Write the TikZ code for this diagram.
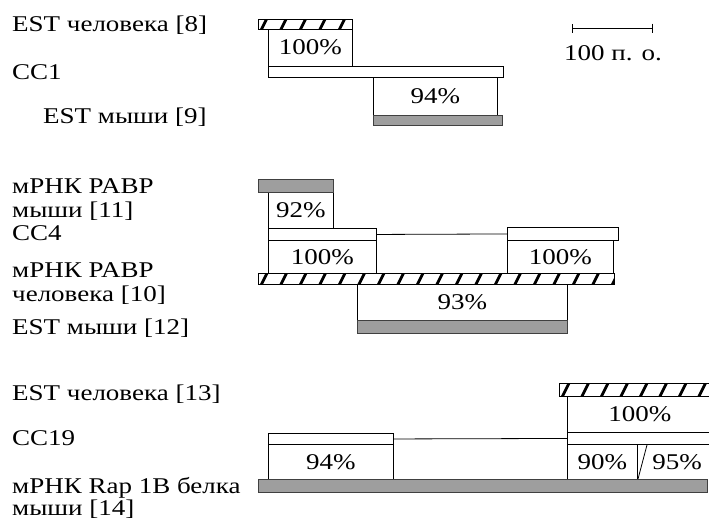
\documentclass[tikz,border=0pt]{standalone}
\usepackage{fontspec}
\setmainfont{Liberation Serif}[FakeStretch=1.2]
\usetikzlibrary{arrows.meta}
\tikzset{
  lbl/.style={anchor=base west, inner sep=0pt, font=\fontsize{22.5}{24}\selectfont},
  pct/.style={draw, line width=0.7pt, anchor=north west, inner sep=0pt,
              font=\fontsize{22.5}{24}\selectfont},
  ccbar/.style={draw, line width=0.9pt, fill=white, anchor=north west, inner sep=0pt},
  greybar/.style={draw=black!75, line width=0.7pt, fill=black!38, anchor=north west,
                  inner sep=0pt},
  hatchbar/.style={draw, line width=0.8pt, fill=white, anchor=north west, inner sep=0pt,
    path picture={
      \foreach \k in {0,...,22}
        \draw[line width=2.8pt] ([xshift=\k*19.5pt+3pt]path picture bounding box.south west) -- ++(7pt,14pt);
    }},
}

\begin{document}
\begin{tikzpicture}[x=1pt, y=-1pt]
  \clip (0,0) rectangle (709,523);
  \fill[white] (0,0) rectangle (709,523);

  % left labels
  \node[lbl] (t8) at (12,31) {EST человека [8]};
  \node[lbl] (tcc1) at (12,79) {CC1};
  \node[lbl] (t9) at (43,123) {EST мыши [9]};

  \node[lbl] (t11a) at (12,193) {мРНК PABP};
  \node[lbl] (t11b) at (12,217) {мыши [11]};
  \node[lbl] (tcc4) at (12,240) {CC4};
  \node[lbl] (t10a) at (12,277) {мРНК PABP};
  \node[lbl] (t10b) at (12,301) {человека [10]};
  \node[lbl] (t12) at (12,334) {EST мыши [12]};

  \node[lbl] (t13) at (12,400) {EST человека [13]};
  \node[lbl] (tcc19) at (12,445) {CC19};
  \node[lbl] (t14a) at (12,493) {мРНК Rap 1B белка};
  \node[lbl] (t14b) at (12,515) {мыши [14]};

  % scale
  \coordinate (sc1) at (572,28);
  \coordinate (sc2) at (653,28);
  \draw[line width=0.8pt, {Bar[width=9pt]}-{Bar[width=9pt]}] (sc1) -- (sc2);
  \node[lbl, anchor=base] (tsc) at (613,60) {100 п. о.};

  % CC1
  \node[pct, minimum width=84pt, minimum height=38pt] (p8) at (268,28) {100\%};
  \node[pct, minimum width=124pt, minimum height=38pt] (p9) at (373,77) {94\%};
  \node[hatchbar, minimum width=94pt, minimum height=10pt] (h8) at (258,19) {};
  \node[ccbar, minimum width=235pt, minimum height=11pt] (cc1) at (268,66) {};
  \node[greybar, minimum width=129pt, minimum height=10pt] (m9) at (373,115) {};

  % CC4
  \node[pct, minimum width=65pt, minimum height=36pt] (p11) at (268,192) {92\%};
  \node[pct, minimum width=108pt, minimum height=33pt] (p10a) at (268,240) {100\%};
  \node[pct, minimum width=106pt, minimum height=33pt] (p10b) at (507,240) {100\%};
  \node[pct, minimum width=210pt, minimum height=36pt] (p12) at (357,284) {93\%};
  \node[greybar, minimum width=75pt, minimum height=13pt] (m11) at (258,179) {};
  \node[ccbar, minimum width=108pt, minimum height=12pt] (cc4a) at (268,228) {};
  \node[ccbar, minimum width=111pt, minimum height=13pt] (cc4b) at (507,227) {};
  \draw[line width=0.8pt] (cc4a.east) -- (cc4b.west);
  \node[hatchbar, minimum width=356pt, minimum height=11pt] (h10) at (258,273) {};
  \node[greybar, minimum width=210pt, minimum height=13pt] (m12) at (357,320) {};

  % CC19
  \node[pct, minimum width=145pt, minimum height=36pt] (p13) at (567,396) {100\%};
  \node[pct, minimum width=125pt, minimum height=35pt] (p14a) at (268,444) {94\%};
  \node[pct, minimum width=70pt, minimum height=35pt] (p14b) at (567,444) {90\%};
  \node[pct, draw=none, anchor=center] (p14c) at (677,462) {95\%};
  \node[hatchbar, minimum width=153pt, minimum height=13pt] (h13) at (559,383) {};
  \node[ccbar, minimum width=125pt, minimum height=11pt] (cc19a) at (268,433) {};
  \node[ccbar, minimum width=145pt, minimum height=12pt] (cc19b) at (567,432) {};
  \draw[line width=0.8pt] (cc19a.east) -- (cc19b.west);
  \node[greybar, minimum width=449pt, minimum height=13pt] (m14) at (258,479) {};
  \path (cc19b.south west) ++(80pt,0) coordinate (sl1) (m14.north west) ++(380pt,0) coordinate (sl2);
  \draw[line width=0.8pt] (sl1) -- (sl2);
\end{tikzpicture}
\end{document}
